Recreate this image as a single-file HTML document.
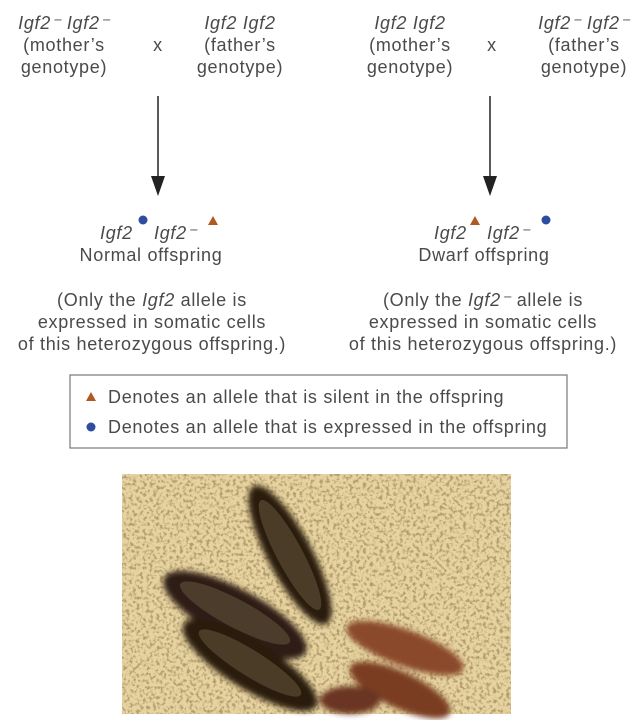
<!DOCTYPE html>
<html><head><style>
body{margin:0;background:#fff}
text{font-family:"Liberation Sans",sans-serif;fill:#4a4a4a;font-size:18px;letter-spacing:0.7px}
.i{font-style:italic}
</style></head><body>
<svg width="640" height="720" viewBox="0 0 640 720" xmlns="http://www.w3.org/2000/svg">
<defs>
<filter id="n" x="0" y="0" width="100%" height="100%">
<feTurbulence type="fractalNoise" baseFrequency="0.3" numOctaves="2" seed="3"/>
<feColorMatrix type="matrix" values="0 0 0 0 0.45  0 0 0 0 0.33  0 0 0 0 0.15  0 0 0 -4 2.1"/>
</filter>
<filter id="b"><feGaussianBlur stdDeviation="3"/></filter>
</defs>
<g text-anchor="middle">
<text x="64" y="29" class="i">Igf2⁻ Igf2⁻</text>
<text x="64" y="51">(mother’s</text>
<text x="64" y="73">genotype)</text>
<text x="158" y="51">x</text>
<text x="240" y="29" class="i">Igf2 Igf2</text>
<text x="240" y="51">(father’s</text>
<text x="240" y="73">genotype)</text>
<text x="410" y="29" class="i">Igf2 Igf2</text>
<text x="410" y="51">(mother’s</text>
<text x="410" y="73">genotype)</text>
<text x="492" y="51">x</text>
<text x="584" y="29" class="i">Igf2⁻ Igf2⁻</text>
<text x="584" y="51">(father’s</text>
<text x="584" y="73">genotype)</text>
<text x="151" y="261">Normal offspring</text>
<text x="484" y="261">Dwarf offspring</text>
<text x="152" y="306">(Only the <tspan class="i">Igf2</tspan> allele is</text>
<text x="152" y="328">expressed in somatic cells</text>
<text x="152" y="350">of this heterozygous offspring.)</text>
<text x="483" y="306">(Only the <tspan class="i">Igf2⁻</tspan> allele is</text>
<text x="483" y="328">expressed in somatic cells</text>
<text x="483" y="350">of this heterozygous offspring.)</text>
</g>
<line x1="158" y1="96" x2="158" y2="180" stroke="#222" stroke-width="1.5"/>
<polygon points="151,176 165,176 158,196" fill="#222"/>
<line x1="490" y1="96" x2="490" y2="180" stroke="#222" stroke-width="1.5"/>
<polygon points="483,176 497,176 490,196" fill="#222"/>
<text x="100" y="239" class="i">Igf2</text>
<circle cx="143" cy="220" r="4.5" fill="#2e4da0"/>
<text x="154" y="239" class="i">Igf2⁻</text>
<polygon points="213,216 208,225 218,225" fill="#b5551f"/>
<text x="434" y="239" class="i">Igf2</text>
<polygon points="475,216 470,225 480,225" fill="#b5551f"/>
<text x="487" y="239" class="i">Igf2⁻</text>
<circle cx="546" cy="220" r="4.5" fill="#2e4da0"/>
<rect x="70" y="375" width="497" height="73" fill="none" stroke="#777" stroke-width="1.2"/>
<polygon points="91,392 86,401 96,401" fill="#b5551f"/>
<text x="108" y="403">Denotes an allele that is silent in the offspring</text>
<circle cx="91" cy="427" r="4.5" fill="#2e4da0"/>
<text x="108" y="433">Denotes an allele that is expressed in the offspring</text>
<rect x="122" y="474" width="389" height="240" fill="#e6d3a0"/>
<rect x="122" y="474" width="389" height="240" filter="url(#n)"/>
<g filter="url(#b)">
<ellipse cx="290" cy="555" rx="78" ry="22" transform="rotate(62 290 555)" fill="#2a1c10"/>
<ellipse cx="235" cy="615" rx="80" ry="26" transform="rotate(28 235 615)" fill="#2d1e12"/>
<ellipse cx="250" cy="665" rx="78" ry="24" transform="rotate(32 250 665)" fill="#2a1c10"/>
<ellipse cx="405" cy="648" rx="62" ry="18" transform="rotate(20 405 648)" fill="#8a4a2a"/>
<ellipse cx="400" cy="690" rx="55" ry="18" transform="rotate(25 400 690)" fill="#7a3e22"/>
<ellipse cx="350" cy="700" rx="30" ry="14" fill="#6a3520"/>
</g>
<ellipse cx="290" cy="555" rx="62" ry="13" transform="rotate(62 290 555)" fill="#5a4a35" opacity="0.7"/>
<ellipse cx="235" cy="613" rx="62" ry="14" transform="rotate(28 235 613)" fill="#5a4a35" opacity="0.7"/>
<ellipse cx="250" cy="663" rx="60" ry="13" transform="rotate(32 250 663)" fill="#5a4a35" opacity="0.7"/>
</svg>
</body></html>
